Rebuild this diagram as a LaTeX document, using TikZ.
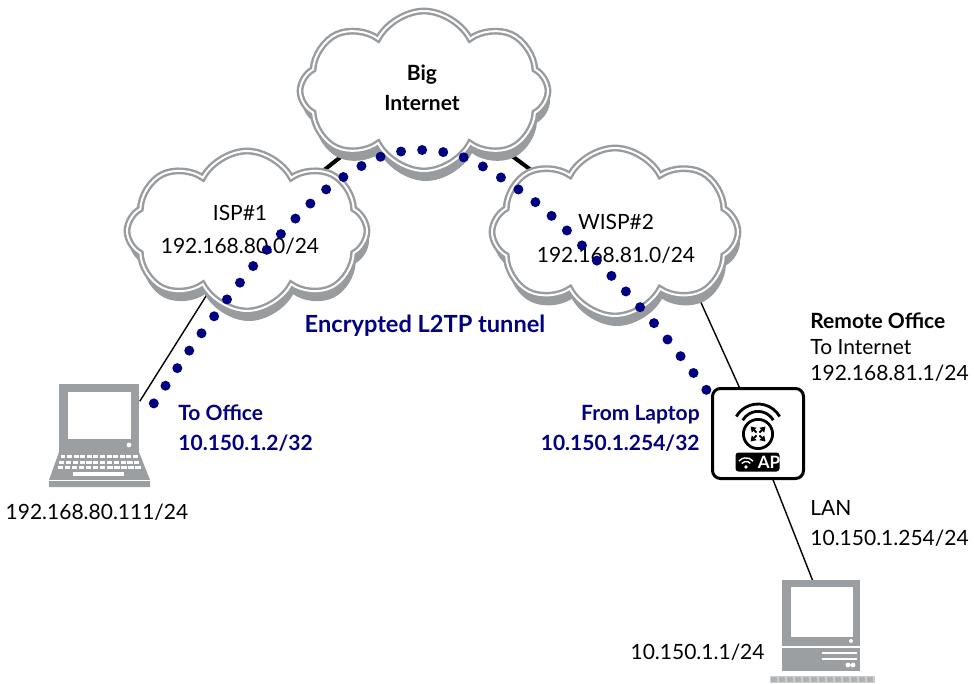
\documentclass[tikz,border=0pt]{standalone}
\usepackage{fontspec}
\setmainfont{Lato}
\usetikzlibrary{arrows.meta,shapes.symbols,shadows,calc}

\definecolor{tunnelblue}{RGB}{0,0,128}
\definecolor{cloudgrey}{RGB}{152,156,159}
\definecolor{devgrey}{RGB}{155,159,162}

\pgfdeclarelayer{background}
\pgfsetlayers{background,main}

\tikzset{
  netcloud/.style={cloud, cloud puffs=8, cloud puff arc=125, cloud ignores aspect,
    inner sep=0pt, draw=cloudgrey, line width=1.2pt, double=white, double distance=1pt,
    fill=white, drop shadow={fill=cloudgrey, opacity=1, shadow xshift=1pt, shadow yshift=-5pt}},
  cloudtext/.style={align=center, font=\fontsize{10.5}{16.5}\selectfont},
  tunneltext/.style={text=tunnelblue, inner sep=0pt, font=\bfseries\fontsize{10.5}{15}\selectfont},
  addrtext/.style={inner sep=0pt, font=\fontsize{10.5}{13}\selectfont},
  uplink/.style={line width=2pt},
  devlink/.style={line width=0.7pt},
  tunneldots/.style={draw=tunnelblue, line width=5pt, line cap=round, dash pattern=on 0pt off 10.6pt},
}

\begin{document}
\begin{tikzpicture}[x=0.5pt, y=-0.5pt]
  \useasboundingbox (0,0) rectangle (974,684);

  %% Clouds
  \node[netcloud, minimum width=124pt, minimum height=80pt] (big) at (424,91) {};
  \node[netcloud, minimum width=120pt, minimum height=80pt] (isp) at (247,231) {};
  \node[netcloud, minimum width=123pt, minimum height=84pt] (wisp) at (615,232) {};

  \node[cloudtext, font=\bfseries\fontsize{10.5}{15}\selectfont] (bigtext) at (422,88) {Big\\Internet};
  \node[cloudtext] (isptext) at (240,230) {ISP\#1\\192.168.80.0/24};
  \node[cloudtext] (wisptext) at (616,239) {WISP\#2\\192.168.81.0/24};

  %% Laptop
  \begin{scope}[shift={(59,384)}]
    \node[fill=devgrey, inner sep=0pt, minimum width=40pt, minimum height=34pt, anchor=north west] (laptop) at (0,0) {};
    \fill[white] (9,8) rectangle (72,55);
    \fill[white] (70,61) circle (1.2pt);
    \fill[devgrey] (0,68) -- (80,68) -- (91,96) -- (91,103) -- (-10,103) -- (-10,96) -- cycle;
    \foreach \r in {0,1,2}
      \foreach \k in {0,...,11}
        \fill[white] ({1.5-1.5*\r+\k*(79+3*\r)/12}, {71+5.5*\r}) rectangle ++({(79+3*\r)/12-1.6}, 3.2);
    \fill[white] (14,88) rectangle (65,92);
    \draw[white, line width=0.5pt] (-10,96) -- (91,96);
  \end{scope}

  %% Desktop
  \begin{scope}[shift={(782,580)}]
    \node[fill=devgrey, inner sep=0pt, minimum width=39pt, minimum height=33pt, anchor=north west] (desk) at (0,0) {};
    \fill[white] (9,7) rectangle (71,57);
    \fill[white] (69,61) circle (1pt);
    \fill[devgrey] (0,68) rectangle (78,91);
    \draw[white, line width=1pt] (40,73) -- (75,73) (40,79) -- (75,79);
    \fill[white] (66,85) circle (1.2pt) (71,85) circle (1.2pt);
    \fill[devgrey!50] (-12,96) rectangle (93,103);
    \foreach \k in {0,...,12}
      \fill[devgrey!80] ({-11+\k*8}, 97) rectangle ++(6,5);
  \end{scope}

  %% Access point
  \node[draw, fill=white, line width=1.5pt, rounded corners=4pt, inner sep=0pt,
        minimum width=45.5pt, minimum height=45pt] (ap) at (758,433.5) {};
  \draw[line width=1.4pt] ([shift={(30:12.5pt)}]758,429) arc[start angle=30, end angle=150, radius=12.5pt];
  \draw[line width=1.4pt] ([shift={(30:8.8pt)}]758,429) arc[start angle=30, end angle=150, radius=8.8pt];
  \draw[line width=1.4pt] (758,434) circle (7.3pt);
  \foreach \a in {45,135,225,315}
    \draw[line width=0.9pt, -{Triangle[length=2.6pt, width=3.2pt]}] ([shift={(\a:1pt)}]758,434) -- ([shift={(\a:5.3pt)}]758,434);
  \node[fill=black, rounded corners=1.5pt, inner sep=0pt, minimum width=22pt, minimum height=9.5pt] (aplabel) at (757.5,462) {};
  \node[text=white, font=\bfseries\fontsize{8.5}{8.5}\selectfont, inner sep=0pt] (aptext) at (769,462.5) {AP};
  \fill[white] (746,467) circle (0.9pt);
  \draw[white, line width=0.7pt] ([shift={(40:2.8pt)}]746,467) arc[start angle=40, end angle=140, radius=2.8pt];
  \draw[white, line width=0.7pt] ([shift={(40:4.6pt)}]746,467) arc[start angle=40, end angle=140, radius=4.6pt];

  %% Links, kept under the clouds and devices
  \begin{pgfonlayer}{background}
    \draw[uplink] (isp.center) -- (big.center);
    \draw[uplink] (big.center) -- (wisp.center);
    \draw[devlink] (laptop.23) -- (isp.center);
    \draw[devlink] (ap.112) -- ($(wisp.center)+(54,0)$);
    \draw[devlink] (ap.-72) -- (desk.105);
  \end{pgfonlayer}

  %% L2TP tunnel
  \coordinate (tunnelA) at ($(laptop.east)+(14,-15)$);
  \coordinate (tunnelB) at ($(ap.north west)+(0,9)$);
  \draw[tunneldots] plot[smooth] coordinates {(tunnelA) (201,334) (264,253) (323,192) (375,159)
    (415,150) (457,155) (494,173) (545,210) (604,268) (659,329) (tunnelB)};

  %% Labels
  \node[tunneltext, font=\bfseries\fontsize{11.8}{15}\selectfont] (tunnellabel) at (425,326) {Encrypted L2TP tunnel};
  \node[tunneltext, align=left, anchor=west] (officelabel) at (178,428) {To Office\\10.150.1.2/32};
  \node[tunneltext, align=right, anchor=east] (laptoplabel) at (700,428) {From Laptop\\10.150.1.254/32};
  \node[addrtext, align=left, anchor=west] (remotelabel) at (810,347) {\textbf{Remote Office}\\To Internet\\192.168.81.1/24};
  \node[addrtext, align=left, anchor=west, font=\fontsize{10.5}{15}\selectfont] (lanlabel) at (810,523) {LAN\\10.150.1.254/24};
  \node[addrtext] (laptopaddr) at (97,512) {192.168.80.111/24};
  \node[addrtext, anchor=east] (deskaddr) at (765,652) {10.150.1.1/24};
\end{tikzpicture}
\end{document}
